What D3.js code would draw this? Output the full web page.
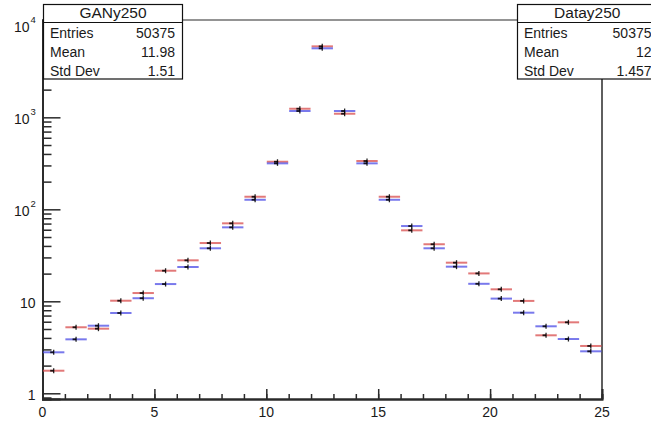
<!DOCTYPE html>
<html>
<head>
<meta charset="utf-8">
<script src="https://cdn.jsdelivr.net/npm/d3@7"></script>
<style>
  html, body { margin: 0; padding: 0; background: #fff; }
  svg { display: block; }
  text { font-family: "Liberation Sans", Arial, Helvetica, sans-serif; fill: #1a1a1a; }
</style>
</head>
<body>
<svg id="chart" width="651" height="422"></svg>
<script>
// Bin layout: 25 unit-wide bins from 0 to 25
const binEdges = d3.range(0, 25);

// Bin contents (y values, log scale)
const dataY250 = [1.76, 5.22, 5.04, 10.15, 12.3, 21.5, 27.9, 43.0, 70.4, 137, 329, 1240, 5910,
                  1094, 335, 137, 59.1, 41.7, 26.3, 20.1, 13.5, 10.1, 4.27, 5.91, 3.27];
const ganY250  = [2.79, 3.86, 5.43, 7.46, 10.8, 15.4, 23.6, 37.7, 63.7, 127, 316, 1171, 5623,
                  1171, 316, 127, 65.8, 37.7, 23.8, 15.5, 10.7, 7.52, 5.35, 3.89, 2.86];

// Axis ticks
const xMajorTicks = [0, 5, 10, 15, 20, 25];
const xMinorTicks = d3.range(0, 26);
const yMajorTicks = [1, 10, 100, 1000, 10000];
const yMajorLabels = [["1", ""], ["10", ""], ["10", "2"], ["10", "3"], ["10", "4"]];

// Statistics boxes
const ganStatsTitle = "GANy250";
const ganStatsRows = [["Entries", "50375"], ["Mean", "11.98"], ["Std Dev", "1.51"]];
const dataStatsTitle = "Datay250";
const dataStatsRows = [["Entries", "50375"], ["Mean", "12"], ["Std Dev", "1.457"]];

const svg = d3.select("#chart");
const frame = { left: 42.5, right: 602, top: 20, bottom: 399 };

const x = d3.scaleLinear().domain([0, 25]).range([frame.left, frame.right]);
const y = d3.scaleLog().domain([0.867, 11430]).range([frame.bottom, frame.top]);

// Minor log ticks: 2..9 in each decade, within range
const yMinorTicks = [];
for (let e = -1; e <= 4; e++) {
  for (let m = 2; m <= 9; m++) {
    const v = m * Math.pow(10, e);
    if (v > y.domain()[0] && v < y.domain()[1]) yMinorTicks.push(v);
  }
}

const axisColor = "#2a2a2a";

// Frame (top and right edges)
svg.append("line").attr("x1", frame.left).attr("x2", frame.right)
  .attr("y1", frame.top).attr("y2", frame.top)
  .attr("stroke", axisColor).attr("stroke-width", 1.2);
svg.append("line").attr("x1", frame.right).attr("x2", frame.right)
  .attr("y1", frame.top).attr("y2", frame.bottom)
  .attr("stroke", axisColor).attr("stroke-width", 1.5);

// X axis: minor and major ticks pointing inward
const xAxisMinor = d3.axisBottom(x).tickValues(xMinorTicks).tickSize(-5).tickFormat("");
const xAxisMajor = d3.axisBottom(x).tickValues(xMajorTicks).tickSize(-10).tickFormat("");
[xAxisMinor, xAxisMajor].forEach(ax => {
  const g = svg.append("g").attr("transform", `translate(0,${frame.bottom})`).call(ax);
  g.selectAll("line").attr("stroke", axisColor).attr("stroke-width", 1.5);
  g.select(".domain").attr("stroke", axisColor).attr("stroke-width", 1.8);
});
svg.append("g").selectAll("text").data(xMajorTicks).join("text")
  .attr("x", d => x(d)).attr("y", 417)
  .attr("text-anchor", "middle").attr("font-size", 14)
  .text(d => d);

// Y axis: minor and major ticks pointing inward
const yAxisMinor = d3.axisLeft(y).tickValues(yMinorTicks).tickSize(-9).tickFormat("");
const yAxisMajor = d3.axisLeft(y).tickValues(yMajorTicks).tickSize(-18).tickFormat("");
[yAxisMinor, yAxisMajor].forEach(ax => {
  const g = svg.append("g").attr("transform", `translate(${frame.left},0)`).call(ax);
  g.selectAll("line").attr("stroke", axisColor).attr("stroke-width", 1.5);
  g.select(".domain").attr("stroke", axisColor).attr("stroke-width", 1.8);
});
const yLabels = svg.append("g").selectAll("g").data(yMajorTicks).join("g")
  .attr("transform", d => `translate(0,${y(d)})`);
yLabels.each(function(d, i) {
  const [base, exp] = yMajorLabels[i];
  const g = d3.select(this);
  if (exp) {
    g.append("text").attr("x", 29.5).attr("y", 7).attr("text-anchor", "end")
      .attr("font-size", 14).text(base);
    g.append("text").attr("x", 30.5).attr("y", -2.5)
      .attr("font-size", 9.5).text(exp);
  } else {
    g.append("text").attr("x", 35.5).attr("y", 7).attr("text-anchor", "end")
      .attr("font-size", 14).text(base);
  }
});

// Histogram series: horizontal bin-width bars with black centre markers
function drawSeries(values, color, cls) {
  const g = svg.append("g").attr("class", cls);
  const bins = binEdges.map((lo, i) => ({ lo, hi: lo + 1, v: values[i] }));
  g.selectAll("line.bar").data(bins).join("line").attr("class", "bar")
    .attr("x1", d => x(d.lo) + 0.5).attr("x2", d => x(d.hi) - 0.5)
    .attr("y1", d => y(d.v)).attr("y2", d => y(d.v))
    .attr("stroke", color).attr("stroke-width", 2).attr("stroke-opacity", 0.75);
  g.selectAll("line.err").data(bins).join("line").attr("class", "err")
    .attr("x1", d => x(d.lo + 0.5)).attr("x2", d => x(d.lo + 0.5))
    .attr("y1", d => y(d.v) - 2.5).attr("y2", d => y(d.v) + 2.5)
    .attr("stroke", "#000").attr("stroke-width", 1.3).attr("stroke-opacity", 0.85);
  g.selectAll("line.mk").data(bins).join("line").attr("class", "mk")
    .attr("x1", d => x(d.lo + 0.5) - 3.5).attr("x2", d => x(d.lo + 0.5))
    .attr("y1", d => y(d.v)).attr("y2", d => y(d.v))
    .attr("stroke", "#000").attr("stroke-width", 1.8).attr("stroke-opacity", 0.85);
}
drawSeries(dataY250, "#d84c4c", "data");
drawSeries(ganY250, "#4c4ce6", "gan");

// Statistics box
function statsBox(x0, x1, title, rows, valueRight) {
  const top = 4.5, sep = 22.5, bottom = 79;
  const g = svg.append("g");
  g.append("rect").attr("x", x0).attr("y", top).attr("width", x1 - x0).attr("height", bottom - top)
    .attr("fill", "#fff").attr("stroke", "#111").attr("stroke-width", 1.2);
  g.append("line").attr("x1", x0).attr("x2", x1).attr("y1", sep).attr("y2", sep)
    .attr("stroke", "#111").attr("stroke-width", 1.2);
  g.append("text").attr("x", (x0 + x1) / 2).attr("y", 18).attr("text-anchor", "middle")
    .attr("font-size", 15.5).text(title);
  const rowY = [38.3, 57, 76];
  rows.forEach((r, i) => {
    g.append("text").attr("x", x0 + 6.5).attr("y", rowY[i]).attr("font-size", 14).text(r[0]);
    g.append("text").attr("x", valueRight).attr("y", rowY[i]).attr("text-anchor", "end")
      .attr("font-size", 14).text(r[1]);
  });
}
statsBox(43.5, 182.5, ganStatsTitle, ganStatsRows, 175);
statsBox(517.5, 657, dataStatsTitle, dataStatsRows, 651.5);
</script>
</body>
</html>
